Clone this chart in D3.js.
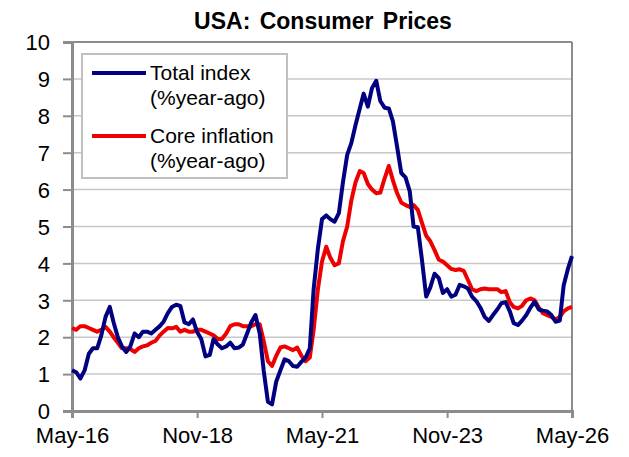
<!DOCTYPE html>
<html>
<head>
<meta charset="utf-8">
<script src="https://cdn.jsdelivr.net/npm/d3@7"></script>
<style>
  body { margin: 0; background: #fff; }
  text { font-family: Arial, "Liberation Sans", sans-serif; }
</style>
</head>
<body>
<div id="chart"></div>
<script>
// monthly, May-16 .. May-26
let totalIndex = [
  1.10, 1.05, 0.88, 1.10, 1.55, 1.70, 1.70, 2.05, 2.55, 2.82,
  2.40, 2.00, 1.75, 1.60, 1.75, 2.10, 2.00, 2.15, 2.15, 2.10,
  2.20, 2.30, 2.42, 2.65, 2.82, 2.88, 2.85, 2.40, 2.35, 2.48,
  2.14, 1.95, 1.48, 1.52, 1.95, 1.80, 1.70, 1.75, 1.85, 1.70,
  1.72, 1.80, 2.10, 2.40, 2.60, 2.10, 1.10, 0.25, 0.18, 0.80,
  1.10, 1.40, 1.35, 1.22, 1.20, 1.33, 1.45, 1.70, 3.30, 4.40,
  5.20, 5.30, 5.20, 5.13, 5.36, 6.20, 6.94, 7.26, 7.75, 8.20,
  8.60, 8.25, 8.75, 8.95, 8.40, 8.22, 8.20, 7.85, 7.15, 6.45,
  6.33, 5.95, 5.00, 4.98, 4.10, 3.10, 3.35, 3.72, 3.60, 3.20,
  3.30, 3.10, 3.15, 3.42, 3.38, 3.32, 3.10, 2.98, 2.80, 2.55,
  2.44, 2.60, 2.75, 2.92, 2.95, 2.70, 2.38, 2.33, 2.45, 2.60,
  2.80, 2.96, 2.75, 2.72, 2.70, 2.60, 2.42, 2.45, 3.40, 3.85,
  4.20
];

let coreInflation = [
  2.25, 2.20, 2.30, 2.30, 2.25, 2.20, 2.15, 2.20, 2.28, 2.15,
  2.00, 1.85, 1.70, 1.70, 1.68, 1.60, 1.70, 1.75, 1.78, 1.85,
  1.90, 2.05, 2.15, 2.25, 2.24, 2.28, 2.15, 2.20, 2.15, 2.15,
  2.20, 2.20, 2.15, 2.10, 2.05, 1.95, 1.95, 2.10, 2.30, 2.35,
  2.35, 2.30, 2.30, 2.30, 2.35, 2.35, 1.90, 1.35, 1.22, 1.50,
  1.72, 1.75, 1.70, 1.65, 1.72, 1.50, 1.35, 1.45, 2.20, 3.30,
  4.05, 4.45, 4.15, 3.95, 4.00, 4.60, 5.00, 5.70, 6.20, 6.50,
  6.45, 6.15, 6.00, 5.90, 5.92, 6.30, 6.64, 6.25, 5.90, 5.65,
  5.58, 5.53, 5.58, 5.45, 5.10, 4.75, 4.60, 4.36, 4.10, 4.05,
  3.95, 3.85, 3.82, 3.84, 3.80, 3.55, 3.30, 3.25, 3.30, 3.32,
  3.30, 3.30, 3.30, 3.22, 3.25, 2.95, 2.82, 2.78, 2.85, 3.00,
  3.05, 3.00, 2.80, 2.65, 2.60, 2.55, 2.48, 2.55, 2.70, 2.78,
  2.82
];

let tickLabels = ["May-16", "Nov-18", "May-21", "Nov-23", "May-26"];
let yTicks = [0, 1, 2, 3, 4, 5, 6, 7, 8, 9, 10];

let margin = { top: 42, right: 57, bottom: 46, left: 72 };
let width = 629, height = 457;
let innerW = width - margin.left - margin.right,
    innerH = height - margin.top - margin.bottom;

let parse = d3.timeParse("%b-%y");
let months = d3.timeMonth.range(parse("May-16"), d3.timeMonth.offset(parse("May-26"), 1));

let svg = d3.select("#chart").append("svg")
    .attr("width", width)
    .attr("height", height);

let g = svg.append("g")
    .attr("transform", `translate(${margin.left},${margin.top})`);

let x = d3.scaleTime()
    .domain([months[0], months[months.length - 1]])
    .range([0, innerW]);

let y = d3.scaleLinear()
    .domain([0, 10])
    .range([innerH, 0]);

// title
svg.append("text")
    .attr("x", 323)
    .attr("y", 29)
    .attr("text-anchor", "middle")
    .style("font-size", "23px")
    .style("font-weight", "bold")
    .style("word-spacing", "3px")
    .text("USA: Consumer Prices");

// gridlines
g.selectAll(".grid")
    .data(yTicks.filter(d => d > 0 && d < 10))
  .enter().append("line")
    .attr("x1", 0).attr("x2", innerW)
    .attr("y1", d => y(d)).attr("y2", d => y(d))
    .attr("stroke", "#c8c8c8")
    .attr("stroke-width", 1.5);

// top + right frame
g.append("line")
    .attr("x1", 0).attr("x2", innerW)
    .attr("y1", 0).attr("y2", 0)
    .attr("stroke", "#8c8c8c").attr("stroke-width", 2);
g.append("line")
    .attr("x1", innerW).attr("x2", innerW)
    .attr("y1", 0).attr("y2", innerH)
    .attr("stroke", "#8c8c8c").attr("stroke-width", 2);

// axes
let yAxis = g.append("g")
    .call(d3.axisLeft(y).tickValues(yTicks).tickSize(9).tickPadding(13));

let xAxis = g.append("g")
    .attr("transform", `translate(0,${innerH})`)
    .call(d3.axisBottom(x)
      .tickValues(tickLabels.map(parse))
      .tickFormat(d3.timeFormat("%b-%y"))
      .tickSize(7).tickPadding(9));

[yAxis, xAxis].forEach(a => {
  a.select(".domain").attr("stroke", "#8c8c8c").attr("stroke-width", 3);
  a.selectAll(".tick line").attr("stroke", "#8c8c8c").attr("stroke-width", 2);
  a.selectAll("text")
    .style("font-size", "22px")
    .style("font-family", "Arial, 'Liberation Sans', sans-serif")
    .attr("fill", "#000");
});
yAxis.selectAll("text").attr("dy", "0.35em");

// lines
let line = d3.line()
    .x((d, i) => x(months[i]))
    .y(d => y(d));

g.append("path")
    .datum(coreInflation)
    .attr("fill", "none")
    .attr("stroke", "#ee0000")
    .attr("stroke-width", 4)
    .attr("stroke-linejoin", "round")
    .attr("d", line);

g.append("path")
    .datum(totalIndex)
    .attr("fill", "none")
    .attr("stroke", "#000080")
    .attr("stroke-width", 4)
    .attr("stroke-linejoin", "round")
    .attr("d", line);

// legend
let legend = svg.append("g").attr("transform", "translate(82,54)");
legend.append("rect")
    .attr("width", 205).attr("height", 124)
    .attr("fill", "#fff")
    .attr("stroke", "#c0c0c0")
    .attr("stroke-width", 2);

let legendItems = [
  { color: "#000080", lines: ["Total index", "(%year-ago)"], y: 19 },
  { color: "#ee0000", lines: ["Core inflation", "(%year-ago)"], y: 82 }
];

legendItems.forEach(item => {
  legend.append("line")
      .attr("x1", 10).attr("x2", 64)
      .attr("y1", item.y).attr("y2", item.y)
      .attr("stroke", item.color)
      .attr("stroke-width", 4);
  item.lines.forEach((t, i) => {
    legend.append("text")
        .attr("x", 68)
        .attr("y", item.y + i * 25)
        .attr("dy", "0.35em")
        .style("font-size", "21px")
        .text(t);
  });
});
</script>
</body>
</html>
